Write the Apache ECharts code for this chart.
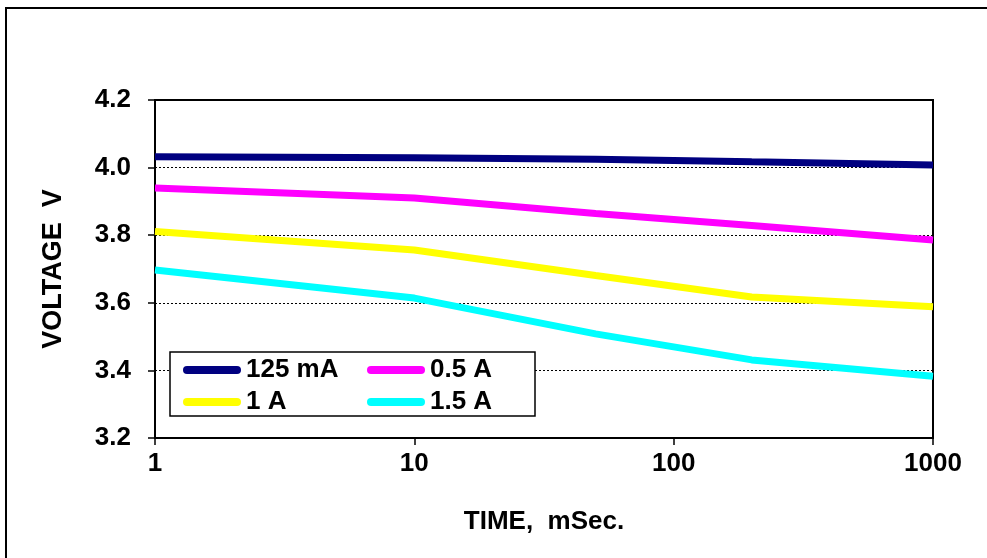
<!DOCTYPE html>
<html>
<head>
<meta charset="utf-8">
<script src="https://cdn.jsdelivr.net/npm/echarts@6/dist/echarts.min.js"></script>
<style>
html,body{margin:0;padding:0;background:#fff;}
#chart{width:987px;height:558px;}
</style>
</head>
<body>
<div id="chart"></div>
<script>
const times = [1, 10, 50, 200, 1000];
const seriesNames = ['125 mA', '0.5 A', '1 A', '1.5 A'];
const v125mA = [4.032, 4.029, 4.025, 4.017, 4.008];
const v05A = [3.940, 3.910, 3.864, 3.829, 3.786];
const v1A = [3.811, 3.756, 3.681, 3.617, 3.588];
const v15A = [3.697, 3.614, 3.508, 3.431, 3.383];
const yTicks = [3.2, 3.4, 3.6, 3.8, 4.0, 4.2];
const colors = ['#000080', '#FF00FF', '#FFFF00', '#00FFFF'];

const allValues = [v125mA, v05A, v1A, v15A];
const font = 'Liberation Sans, Arial, sans-serif';

const chart = echarts.init(document.getElementById('chart'), null, {renderer: 'canvas'});
const legendIcon = 'path://M4,0 H54 A4,4 0 0 1 54,8 H4 A4,4 0 0 1 4,0 Z';
const legendText = {fontFamily: font, fontWeight: 'bold', fontSize: 26, color: '#000'};
const legendPos = [[183, 357], [367, 357], [183, 389], [367, 389]];

chart.setOption({
  backgroundColor: '#fff',
  animation: false,
  graphic: [
    {type: 'rect', shape: {x: 6, y: 8, width: 1100, height: 700}, style: {fill: 'none', stroke: '#000', lineWidth: 2}, z: 100},
    {type: 'rect', shape: {x: 170, y: 352, width: 365, height: 64}, style: {fill: '#fff', stroke: '#000', lineWidth: 1.5}, z: 50}
  ],
  grid: {left: 155, right: 54, top: 100, bottom: 120, show: true, borderColor: '#000', borderWidth: 2, backgroundColor: 'transparent'},
  legend: seriesNames.map((n, i) => ({
    data: [n], left: legendPos[i][0], top: legendPos[i][1], itemWidth: 58, itemHeight: 8, itemGap: 4,
    icon: legendIcon, textStyle: legendText, z: 60, padding: 0
  })),
  xAxis: {
    type: 'log', logBase: 10, min: 1, max: 1000,
    name: 'TIME,  mSec.', nameLocation: 'middle', nameGap: 71,
    nameTextStyle: {fontFamily: font, fontWeight: 'bold', fontSize: 26, color: '#000'},
    axisLine: {lineStyle: {color: '#000', width: 2}},
    axisTick: {show: true, inside: false, length: 7, lineStyle: {color: '#000', width: 1.5}},
    minorTick: {show: false},
    splitLine: {show: false},
    axisLabel: {fontFamily: font, fontWeight: 'bold', fontSize: 26, color: '#000', margin: 13, formatter: v => String(Math.round(v))}
  },
  yAxis: {
    type: 'value', min: yTicks[0], max: yTicks[yTicks.length - 1], interval: 0.2,
    name: 'VOLTAGE  V', nameLocation: 'middle', nameGap: 88, nameRotate: 90,
    nameTextStyle: {fontFamily: font, fontWeight: 'bold', fontSize: 27, color: '#000', padding: [0, 0, 0, 0]},
    axisLine: {show: true, lineStyle: {color: '#000', width: 2}},
    axisTick: {show: true, inside: false, length: 7, lineStyle: {color: '#000', width: 1.5}},
    splitLine: {show: true, lineStyle: {color: '#000', width: 1, type: [2, 2]}},
    axisLabel: {fontFamily: font, fontWeight: 'bold', fontSize: 26, color: '#000', margin: 24, formatter: v => v.toFixed(1)}
  },
  series: seriesNames.map((n, i) => ({
    name: n, type: 'line', showSymbol: false, symbol: 'none',
    data: times.map((t, j) => [t, allValues[i][j]]),
    lineStyle: {color: colors[i], width: 7},
    itemStyle: {color: colors[i]},
    z: 10 - i
  }))
});
</script>
</body>
</html>
